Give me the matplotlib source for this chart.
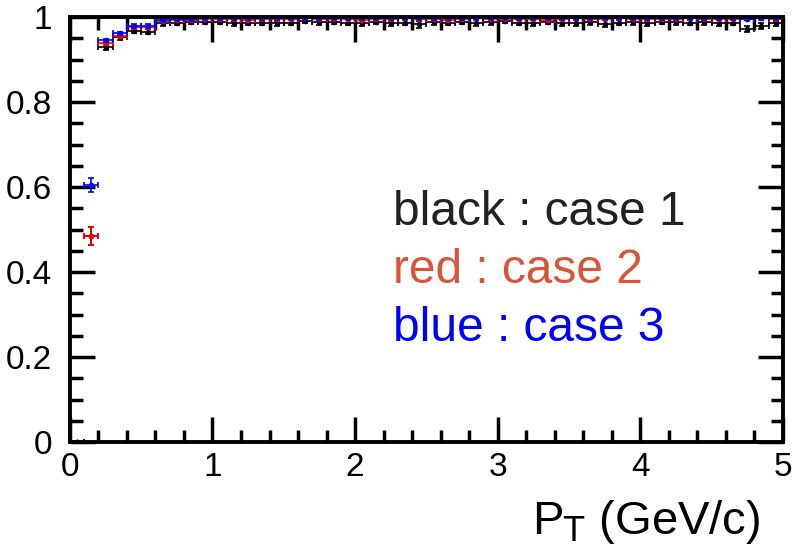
import numpy as np
import matplotlib
matplotlib.use("Agg")
import matplotlib.pyplot as plt
from matplotlib.ticker import MultipleLocator

plt.rcParams['font.family'] = ['Liberation Sans', 'DejaVu Sans']

# bin centres in pT (GeV/c), bin width 0.1
pt = np.arange(0.05, 5.0, 0.1)

case1 = [0.0, 0.485, 0.930, 0.952, 0.968, 0.966, 0.985, 0.987, 0.988, 0.989,
         0.988, 0.985, 0.987, 0.986, 0.985, 0.987, 0.990, 0.988, 0.989, 0.987,
         0.986, 0.988, 0.985, 0.987, 0.983, 0.988, 0.987, 0.989, 0.986, 0.988,
         0.990, 0.987, 0.986, 0.989, 0.985, 0.986, 0.988, 0.984, 0.987, 0.988,
         0.985, 0.989, 0.988, 0.987, 0.988, 0.986, 0.987, 0.972, 0.980, 0.985]
err1 = [0.0, 0.02, 0.008, 0.006, 0.006, 0.007, 0.005, 0.006, 0.005, 0.005,
        0.005, 0.006, 0.005, 0.005, 0.006, 0.005, 0.005, 0.006, 0.005, 0.006,
        0.006, 0.005, 0.006, 0.006, 0.008, 0.006, 0.006, 0.005, 0.006, 0.006,
        0.005, 0.006, 0.007, 0.006, 0.007, 0.006, 0.006, 0.008, 0.006, 0.006,
        0.006, 0.005, 0.006, 0.006, 0.006, 0.006, 0.006, 0.008, 0.007, 0.006]

case2 = [0.0, 0.485, 0.938, 0.956, 0.976, 0.977, 0.991, 0.993, 0.994, 0.995,
         0.995, 0.996, 0.994, 0.995, 0.996, 0.995, 0.997, 0.996, 0.995, 0.996,
         0.994, 0.995, 0.996, 0.997, 0.995, 0.996, 0.994, 0.996, 0.997, 0.996,
         0.995, 0.996, 0.995, 0.994, 0.996, 0.997, 0.995, 0.996, 0.997, 0.995,
         0.996, 0.995, 0.996, 0.997, 0.996, 0.995, 0.996, 0.996, 0.997, 0.996]
err2 = [0.0, 0.022] + [0.004] * 4 + [0.003] * 44

case3 = [0.0, 0.605, 0.945, 0.962, 0.979, 0.980, 0.993, 0.995, 0.996, 0.997,
         0.997, 0.998, 0.997, 0.998, 0.997, 0.998, 0.998, 0.997, 0.998, 0.997,
         0.997, 0.998, 0.997, 0.998, 0.997, 0.998, 0.997, 0.998, 0.997, 0.998,
         0.998, 0.997, 0.998, 0.997, 0.998, 0.998, 0.997, 0.998, 0.997, 0.998,
         0.998, 0.997, 0.998, 0.997, 0.998, 0.998, 0.997, 0.996, 0.998, 0.997]
err3 = [0.0, 0.017] + [0.004] * 4 + [0.002] * 44

fig = plt.figure(figsize=(7.94, 5.5), dpi=100)
ax = fig.add_axes([0.088, 0.196, 0.898, 0.773])

for vals, errs, col in [(case1, err1, 'black'), (case2, err2, 'red'), (case3, err3, 'blue')]:
    ax.errorbar(pt, vals, xerr=0.05, yerr=errs, fmt='o', color=col, ms=3,
                elinewidth=1.2, capsize=2.5, capthick=1.2)

ax.set_xlim(0, 5)
ax.set_ylim(0, 1)
ax.xaxis.set_major_locator(MultipleLocator(1))
ax.xaxis.set_minor_locator(MultipleLocator(0.2))
ax.yaxis.set_major_locator(MultipleLocator(0.2))
ax.yaxis.set_minor_locator(MultipleLocator(0.05))
ax.set_yticks([0, 0.2, 0.4, 0.6, 0.8, 1])
ax.set_yticklabels(['0', '0.2', '0.4', '0.6', '0.8', '1'])
ax.tick_params(which='both', direction='in', top=True, right=True, width=2.5, labelsize=24)
ax.tick_params(which='major', length=18, pad=7)
ax.tick_params(axis='y', which='major', pad=13)
ax.tick_params(which='minor', length=9)
for s in ax.spines.values():
    s.set_linewidth(2.8)

fig.text(0.957, 0.051, r'P$_\mathrm{T}$ (GeV/c)', fontsize=34, ha='right', va='center')

ax.text(0.453, 0.541, 'black : case 1', transform=ax.transAxes, fontsize=34.5, color='#222222', va='center')
ax.text(0.453, 0.405, 'red : case 2', transform=ax.transAxes, fontsize=34.5, color='#d9553a', va='center')
ax.text(0.453, 0.268, 'blue : case 3', transform=ax.transAxes, fontsize=34.5, color='#0000ff', va='center')

fig.savefig('out.png', dpi=100)
